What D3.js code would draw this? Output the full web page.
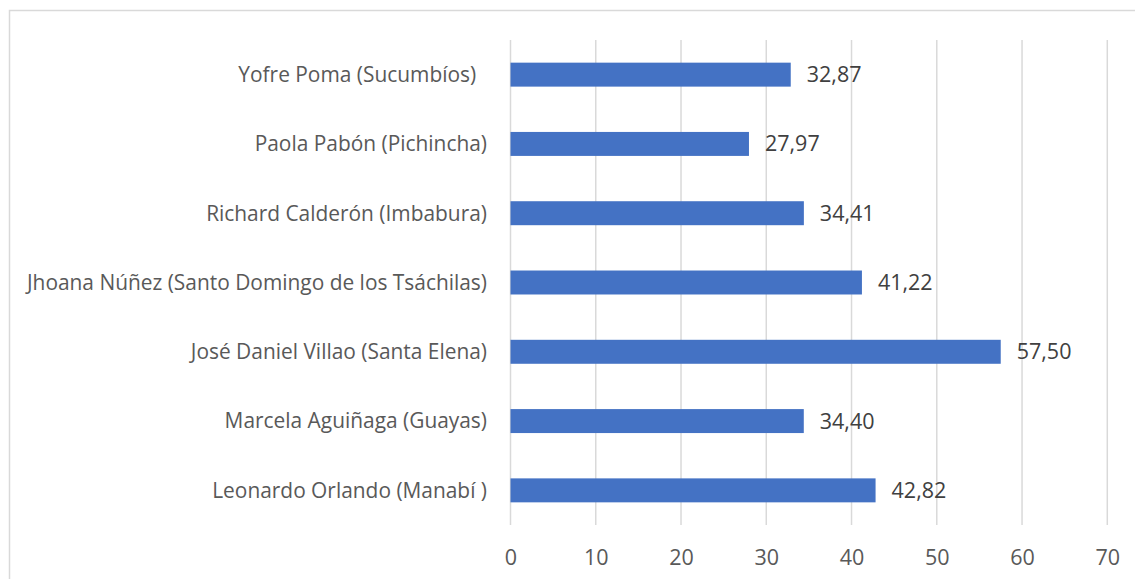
<!DOCTYPE html>
<html>
<head>
<meta charset="utf-8">
<script src="https://cdn.jsdelivr.net/npm/d3@7"></script>
<style>
  html, body { margin: 0; padding: 0; background: #fff; }
  svg { display: block; }
  text { font-family: "Open Sans", "Noto Sans", sans-serif; white-space: pre; }
</style>
</head>
<body>
<svg id="chart" width="1135" height="579"></svg>
<script>
// Candidates, top to bottom
const categories = [
  "Yofre Poma (Sucumbíos)  ",
  "Paola Pabón (Pichincha)",
  "Richard Calderón (Imbabura)",
  "Jhoana Núñez (Santo Domingo de los Tsáchilas)",
  "José Daniel Villao (Santa Elena)",
  "Marcela Aguiñaga (Guayas)",
  "Leonardo Orlando (Manabí )"
];
const values = [32.87, 27.97, 34.41, 41.22, 57.50, 34.40, 42.82];
const valueLabels = ["32,87", "27,97", "34,41", "41,22", "57,50", "34,40", "42,82"];
const xTicks = [0, 10, 20, 30, 40, 50, 60, 70];

const svg = d3.select("#chart");
const W = 1135, H = 579;

// outer frame of the chart
svg.append("rect")
  .attr("x", 9.5).attr("y", 10.5)
  .attr("width", W + 10).attr("height", H + 10)
  .attr("fill", "none").attr("stroke", "#d9d9d9").attr("stroke-width", 1.5);

const plot = { left: 510.5, right: 1107.3, top: 40, bottom: 525 };

const x = d3.scaleLinear().domain([0, 70]).range([plot.left, plot.right]);
const y = d3.scaleBand().domain(categories).range([plot.top, plot.bottom])
  .paddingInner(0.654).paddingOuter(0.327);

// vertical gridlines
svg.append("g").selectAll("line").data(xTicks).join("line")
  .attr("x1", d => x(d)).attr("x2", d => x(d))
  .attr("y1", plot.top).attr("y2", plot.bottom)
  .attr("stroke", "#d9d9d9").attr("stroke-width", 1.5);

// bars
svg.append("g").selectAll("rect").data(values).join("rect")
  .attr("x", x(0))
  .attr("y", (d, i) => y(categories[i]))
  .attr("width", d => x(d) - x(0))
  .attr("height", y.bandwidth())
  .attr("fill", "#4472c4");

// value labels
svg.append("g").selectAll("text").data(values).join("text")
  .attr("x", d => x(d) + 16)
  .attr("y", (d, i) => y(categories[i]) + y.bandwidth() / 2)
  .attr("dy", "0.35em")
  .attr("font-size", 21.5)
  .attr("fill", "#404040")
  .text((d, i) => valueLabels[i]);

// category axis labels
svg.append("g").selectAll("text").data(categories).join("text")
  .attr("x", 487)
  .attr("y", d => y(d) + y.bandwidth() / 2)
  .attr("dy", "0.35em")
  .attr("text-anchor", "end")
  .attr("font-size", 20.9)
  .attr("fill", "#595959")
  .text(d => d);

// value axis
const xAxis = d3.axisBottom(x).tickValues(xTicks).tickSize(0).tickPadding(0).tickFormat(d3.format("d"));
const gx = svg.append("g").attr("transform", `translate(0,${plot.bottom})`).call(xAxis);
gx.select(".domain").remove();
gx.selectAll("text")
  .attr("y", 32).attr("dy", "0.35em")
  .attr("font-size", 21.5)
  .attr("fill", "#595959")
  .style("font-family", "\"Open Sans\", \"Noto Sans\", sans-serif");
</script>
</body>
</html>
